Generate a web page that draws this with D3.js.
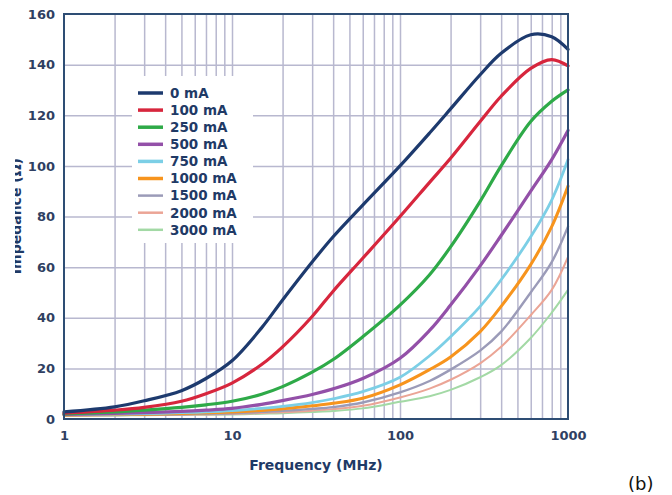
<!DOCTYPE html>
<html>
<head>
<meta charset="utf-8">
<script src="https://cdn.jsdelivr.net/npm/d3@7"></script>
<style>
  body { margin: 0; background: #fff; }
  svg { display: block; }
  text { font-family: "DejaVu Sans", sans-serif; }
</style>
</head>
<body>
<div id="container"></div>
<script>
// frequency sample points (MHz)
const freqs = [1, 2, 3, 5, 7, 10, 15, 20, 30, 40, 60, 100, 150, 200, 300, 400, 600, 800, 1000];

// impedance (ohm) per bias current
const z0 = [2.8, 4.8, 7.2, 11.2, 16, 23, 36, 47, 62, 72, 84.5, 100, 113, 122.5, 136, 144.5, 151.8, 151, 146];
const z100 = [2.3, 3.5, 4.6, 7, 10, 14.2, 21.5, 28.5, 40.5, 50.5, 63.5, 80, 93.5, 103, 117.5, 127.5, 138.5, 142, 139.5];
const z250 = [2, 2.8, 3.5, 4.6, 5.6, 7, 9.8, 12.8, 18.5, 23.5, 32.5, 45, 57, 68, 86, 100, 117.5, 125.5, 130];
const z500 = [1.8, 2.2, 2.5, 3, 3.5, 4.2, 5.8, 7.3, 9.7, 11.9, 16, 24, 35, 45, 60.5, 72.5, 90, 102.5, 114];
const z750 = [1.7, 1.9, 2.1, 2.5, 2.8, 3.3, 4.2, 5, 6.5, 8, 10.8, 16.5, 25, 32.5, 44.5, 55, 72, 86.5, 102.5];
const z1000 = [1.6, 1.8, 1.9, 2.2, 2.5, 2.8, 3.4, 4, 5.2, 6.2, 8.2, 13.5, 19.5, 24.5, 34.5, 44.5, 61, 76, 92];
const z1500 = [1.5, 1.6, 1.7, 1.9, 2.1, 2.3, 2.8, 3.2, 4, 4.7, 6.5, 10.5, 15, 19.5, 27, 34.5, 50, 62, 76];
const z2000 = [1.4, 1.5, 1.6, 1.7, 1.8, 2, 2.4, 2.7, 3.3, 3.9, 5.2, 8.5, 12, 15.5, 22, 28.5, 41, 51, 64];
const z3000 = [1.3, 1.4, 1.5, 1.6, 1.7, 1.8, 2.1, 2.3, 2.8, 3.2, 4.2, 6.8, 9, 11.5, 16.5, 21.3, 32, 42, 51];

const labels = ['0 mA', '100 mA', '250 mA', '500 mA', '750 mA', '1000 mA', '1500 mA', '2000 mA', '3000 mA'];
const colors = ['#1d3a6e', '#d7263d', '#2eaa48', '#9350a8', '#7ccfe6', '#f7941d', '#9b9bb8', '#eba596', '#a3d9a5'];
const widths = [3.2, 3.2, 3.2, 3.2, 2.8, 3, 2.4, 2, 2];
const yTicks = [0, 20, 40, 60, 80, 100, 120, 140, 160];
const xTicks = [1, 10, 100, 1000];

const series = [z0, z100, z250, z500, z750, z1000, z1500, z2000, z3000];

const w = 672;
const h = 495;
const m = { left: 64, right: 104, top: 14, bottom: 76 };

const svg = d3.select('#container').append('svg')
  .attr('width', w)
  .attr('height', h);

const x = d3.scaleLog().domain([1, 1000]).range([m.left, w - m.right]);
const y = d3.scaleLinear().domain([0, 160]).range([h - m.bottom, m.top]);

// grid
const minor = [];
[1, 10, 100].forEach(d => { for (let i = 2; i <= 10; i++) minor.push(d * i); });

svg.append('g')
  .attr('class', 'grid-x')
  .attr('transform', `translate(0,${y(0)})`)
  .call(d3.axisBottom(x).tickValues(minor.filter(d => d < 1000)).tickSize(-(y(0) - y(160))).tickFormat(''))
  .call(g => g.select('.domain').remove())
  .selectAll('line')
  .attr('stroke', '#b8b8cf')
  .attr('stroke-width', 1.5);

svg.append('g')
  .attr('class', 'grid-y')
  .attr('transform', `translate(${x(1)},0)`)
  .call(d3.axisLeft(y).tickValues(yTicks.slice(1, -1)).tickSize(-(x(1000) - x(1))).tickFormat(''))
  .call(g => g.select('.domain').remove())
  .selectAll('line')
  .attr('stroke', '#b8b8cf')
  .attr('stroke-width', 1.5);

// legend background hides the grid behind it
svg.append('rect')
  .attr('x', 132).attr('y', 76)
  .attr('width', 121).attr('height', 167)
  .attr('fill', '#fff');

// curves
const line = d3.line()
  .x((d, i) => x(freqs[i]))
  .y(d => y(d))
  .curve(d3.curveCatmullRom.alpha(0.5));

svg.append('g')
  .selectAll('path')
  .data(series.map((s, i) => ({ s, i })).reverse())
  .join('path')
  .attr('d', d => line(d.s))
  .attr('fill', 'none')
  .attr('stroke', d => colors[d.i])
  .attr('stroke-width', d => widths[d.i])
  .attr('stroke-linecap', 'round');

// frame
svg.append('rect')
  .attr('x', x(1)).attr('y', y(160))
  .attr('width', x(1000) - x(1)).attr('height', y(0) - y(160))
  .attr('fill', 'none')
  .attr('stroke', '#2e4d74')
  .attr('stroke-width', 2);

// tick labels
svg.append('g')
  .attr('transform', `translate(0,${y(0)})`)
  .call(d3.axisBottom(x).tickValues(xTicks).tickFormat(d3.format('d')).tickSize(0).tickPadding(12))
  .call(g => g.select('.domain').remove())
  .selectAll('text')
  .attr('font-family', 'DejaVu Sans')
  .attr('font-weight', 'bold')
  .attr('font-size', 13)
  .attr('fill', '#2f3f62');

svg.append('g')
  .attr('transform', `translate(${x(1)},0)`)
  .call(d3.axisLeft(y).tickValues(yTicks).tickSize(0).tickPadding(9))
  .call(g => g.select('.domain').remove())
  .selectAll('text')
  .attr('font-family', 'DejaVu Sans')
  .attr('font-weight', 'bold')
  .attr('font-size', 13)
  .attr('fill', '#2f3f62');

// axis titles
svg.append('text')
  .attr('x', (x(1) + x(1000)) / 2)
  .attr('y', 470)
  .attr('text-anchor', 'middle')
  .attr('font-weight', 'bold')
  .attr('font-size', 14)
  .attr('fill', '#1f3a66')
  .text('Frequency (MHz)');

// the y title is cut off at the left edge in the source figure
svg.append('clipPath')
  .attr('id', 'ycut')
  .append('rect')
  .attr('x', 15).attr('y', 0).attr('width', 40).attr('height', h);

svg.append('g')
  .attr('clip-path', 'url(#ycut)')
  .append('text')
  .attr('transform', 'translate(21,158) rotate(-90)')
  .attr('text-anchor', 'end')
  .attr('font-weight', 'bold')
  .attr('font-size', 14)
  .attr('fill', '#1f3a66')
  .text('Impedance (Ω)');

// legend
const leg = svg.append('g')
  .selectAll('g')
  .data(labels)
  .join('g')
  .attr('transform', (d, i) => `translate(138,${93 + i * 17.1})`);

leg.append('line')
  .attr('x1', 0).attr('x2', 25)
  .attr('stroke', (d, i) => colors[i])
  .attr('stroke-width', (d, i) => i < 6 ? 3.5 : 2.5);

leg.append('text')
  .attr('x', 32)
  .attr('dy', '0.36em')
  .attr('font-weight', 'bold')
  .attr('font-size', 13.5)
  .attr('fill', '#1f3a66')
  .text(d => d);

svg.append('text')
  .attr('x', 628)
  .attr('y', 490)
  .attr('font-size', 18)
  .attr('fill', '#111')
  .text('(b)');
</script>
</body>
</html>
